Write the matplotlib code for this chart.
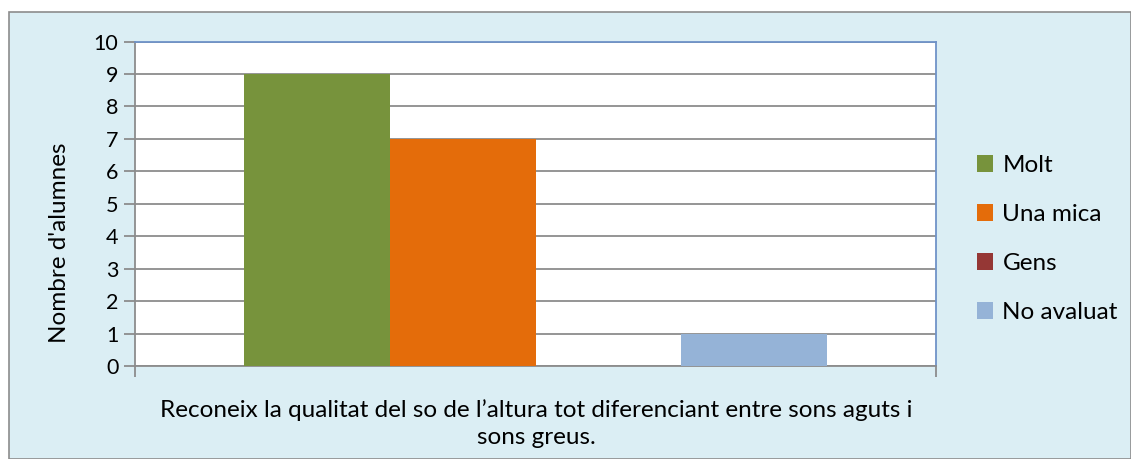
import matplotlib.pyplot as plt
from matplotlib.patches import Rectangle
import numpy as np

# Dades
series = ["Molt", "Una mica", "Gens", "No avaluat"]
valors = [9, 7, 0, 1]
colors = ["#77933C", "#E46C0A", "#953735", "#95B3D7"]
categoria = "Reconeix la qualitat del so de l\u2019altura tot diferenciant entre sons aguts i\nsons greus."
yticks = list(range(0, 11))

plt.rcParams['font.family'] = ['Lato', 'DejaVu Sans']
FS = 17.5

W, H = 1131, 459
fig = plt.figure(figsize=(W / 100, H / 100), dpi=100)
fig.patch.set_facecolor("white")

# fons del grafic amb vora grisa
fig.patches.append(Rectangle((9 / W, 0), 1 - 9 / W, 1 - 12 / H, transform=fig.transFigure,
                             facecolor="#DBEEF4", edgecolor="#8C8C8C", linewidth=1.2, zorder=-10))

ax = fig.add_axes([135 / W, 1 - 366 / H, (936 - 135) / W, (366 - 41.5) / H])
ax.set_facecolor("white")

amplada = 0.182
x = (np.arange(len(valors)) - 1.5) * amplada
for xi, v, c, s in zip(x, valors, colors, series):
    ax.bar(xi, v, width=amplada, color=c, label=s, zorder=3)

ax.set_xlim(-0.5, 0.5)
ax.set_ylim(0, 10)
ax.set_yticks(yticks)
ax.tick_params(axis='y', labelsize=15.5, length=8, width=1.3, color="#8C8C8C", pad=4)
ax.yaxis.grid(True, color="#8C8C8C", linewidth=1.3, zorder=1)
ax.set_xticks([-0.5, 0.5])
ax.set_xticklabels(["", ""])
ax.tick_params(axis='x', length=8, width=1.3, color="#8C8C8C")

for sp in ["left", "bottom"]:
    ax.spines[sp].set_color("#8C8C8C")
    ax.spines[sp].set_linewidth(1.3)
for sp in ["top", "right"]:
    ax.spines[sp].set_color("#6F93C8")
    ax.spines[sp].set_linewidth(1.3)

fig.text(60 / W, 1 - 243 / H, "Nombre d'alumnes", rotation=90, ha="center", va="center", fontsize=FS)
fig.text(536 / W, 1 - 424 / H, categoria, ha="center", va="center", fontsize=FS,
         linespacing=1.35)

ax.legend(loc="center left", bbox_to_anchor=(955 / W, 1 - 239 / H), bbox_transform=fig.transFigure,
          frameon=False, fontsize=FS, handlelength=0.65, handleheight=0.65,
          handletextpad=0.4, labelspacing=1.15)

fig.savefig("out.png", dpi=100)
